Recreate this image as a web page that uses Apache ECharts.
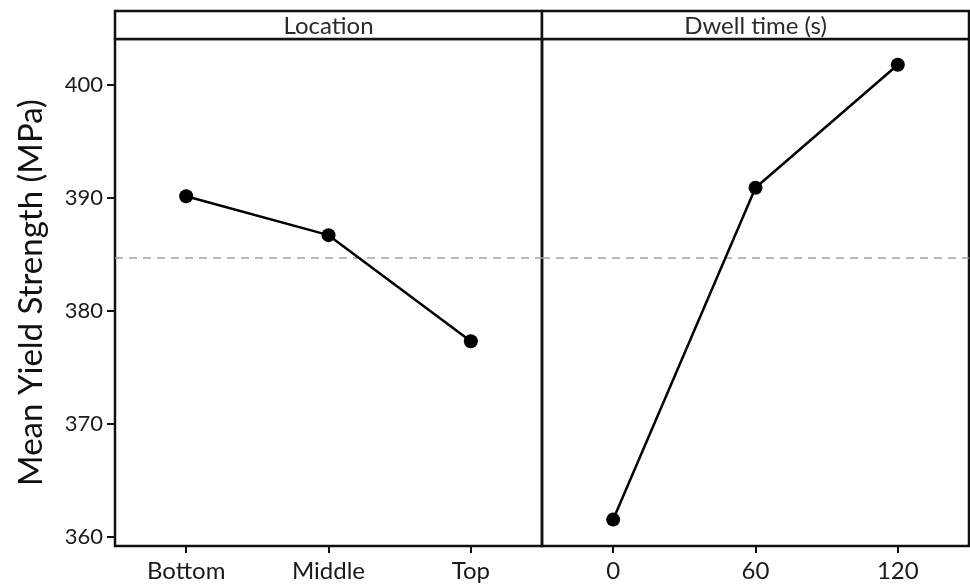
<!DOCTYPE html>
<html>
<head>
<meta charset="utf-8">
<script src="https://cdn.jsdelivr.net/npm/echarts@6/dist/echarts.min.js"></script>
<style>
html,body{margin:0;padding:0;background:#fff;}
#main{width:970px;height:584px;}
</style>
</head>
<body>
<div id="main"></div>
<script>
const locationCategories = ['Bottom', 'Middle', 'Top'];
const locationValues = [390.15, 386.7, 377.3];
const dwellCategories = ['0', '60', '120'];
const dwellValues = [361.5, 390.9, 401.8];
const yTicks = [360, 370, 380, 390, 400];
const panelTitles = ['Location', 'Dwell time (s)'];
const yAxisTitle = 'Mean Yield Strength (MPa)';

const allVals = locationValues.concat(dwellValues);
const grandMean = allVals.reduce((a, b) => a + b, 0) / allVals.length;

const FONT = 'Lato';
const yMin = 359.16, yMax = 404.08;

const chart = echarts.init(document.getElementById('main'), null, {renderer: 'canvas'});

function xAxisCfg(idx, cats) {
  return {
    type: 'category', gridIndex: idx, data: cats, boundaryGap: true,
    axisLine: {show: false},
    axisTick: {show: true, alignWithLabel: true, length: 7, lineStyle: {color: '#111', width: 2}},
    axisLabel: {color: '#1a1a1a', fontFamily: FONT, fontSize: 24, margin: 13},
    splitLine: {show: false}
  };
}
function yAxisCfg(idx, showLabels) {
  return {
    type: 'value', gridIndex: idx, min: yMin, max: yMax,
    name: showLabels ? yAxisTitle : '',
    nameLocation: 'middle', nameGap: 67, nameRotate: 90,
    nameTextStyle: {color: '#111', fontFamily: FONT, fontSize: 33},
    axisLine: {show: false},
    axisTick: {show: showLabels, length: 8, customValues: yTicks, lineStyle: {color: '#111', width: 2}},
    axisLabel: {show: showLabels, customValues: yTicks, color: '#1a1a1a', fontFamily: FONT, fontSize: 22, margin: 12},
    splitLine: {show: false}
  };
}
function seriesCfg(idx, vals) {
  return {
    type: 'line', xAxisIndex: idx, yAxisIndex: idx, data: vals,
    symbol: 'circle', symbolSize: 14,
    lineStyle: {color: '#000', width: 2.5},
    itemStyle: {color: '#000'},
    silent: true,
    markLine: {
      silent: true, symbol: 'none', label: {show: false},
      lineStyle: {color: '#a0a0a0', type: [8, 6], width: 1.6},
      data: [{yAxis: grandMean}]
    },
    z: 5
  };
}

const gridTop = 39, gridBottom = 38;
const panels = [
  {left: 115, right: 428},
  {left: 542, right: 1}
];

const graphics = [];
panels.forEach((p, i) => {
  const x = p.left, w = 970 - p.right - p.left;
  graphics.push({
    type: 'rect', shape: {x: x, y: 11, width: w, height: gridTop - 11},
    style: {fill: '#fff', stroke: '#111', lineWidth: 2.5}, z: 10
  });
  graphics.push({
    type: 'text', x: x + w / 2, y: 26,
    style: {text: panelTitles[i], fill: '#2a2a2a', font: '24px ' + FONT, textAlign: 'center', textVerticalAlign: 'middle'},
    z: 11
  });
});

chart.setOption({
  backgroundColor: '#fff',
  animation: false,
  grid: panels.map(p => ({
    left: p.left, right: p.right, top: gridTop, bottom: gridBottom,
    show: true, borderColor: '#111', borderWidth: 2.5, backgroundColor: 'transparent'
  })),
  xAxis: [xAxisCfg(0, locationCategories), xAxisCfg(1, dwellCategories)],
  yAxis: [yAxisCfg(0, true), yAxisCfg(1, false)],
  series: [seriesCfg(0, locationValues), seriesCfg(1, dwellValues)],
  graphic: graphics
});
</script>
</body>
</html>
